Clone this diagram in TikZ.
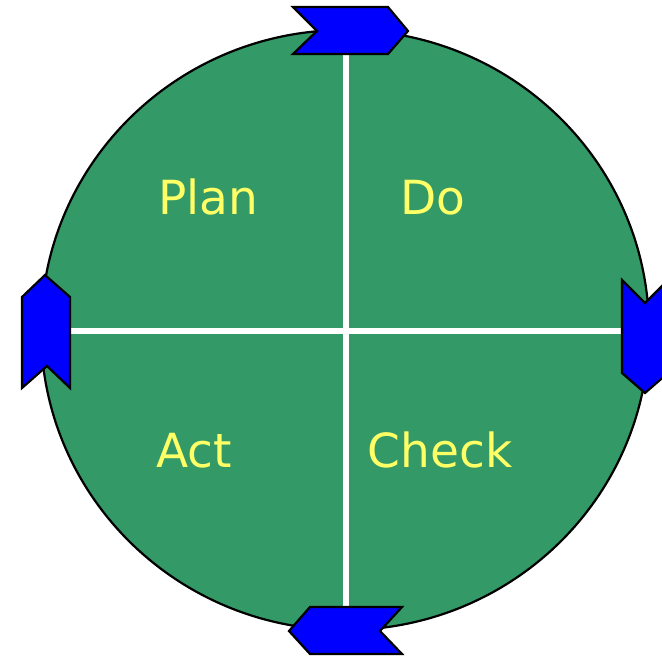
\documentclass[tikz,border=0pt]{standalone}
\usepackage{fontspec}
\setmainfont{DejaVu Sans}
\usepackage{tikz}

\definecolor{pdcagreen}{RGB}{51,153,102}
\definecolor{pdcayellow}{RGB}{255,255,102}

\tikzset{
	chevron/.style={fill=blue, draw=black, line width=2.2pt, line join=miter},
	quarter/.style={text=pdcayellow, anchor=base, inner sep=0pt, font=\fontsize{47}{50}\selectfont}
}

\begin{document}
\begin{tikzpicture}[x=1pt, y=-1pt]
		\useasboundingbox (0, 0) rectangle (662, 656);
		\clip (0, 0) rectangle (662, 656);

		% the wheel
		\filldraw[fill=pdcagreen, draw=black, line width=2.2pt] (345, 330) ellipse [x radius=304, y radius=300];
		\draw[white, line width=5.5pt] (346, 32) -- (346, 628);
		\draw[white, line width=5.5pt] (42, 331) -- (648, 331);

		% the four phases
		\node[quarter] (plan) at (208, 214) {Plan};
		\node[quarter] (do) at (433, 214) {Do};
		\node[quarter] (act) at (194, 467) {Act};
		\node[quarter] (check) at (440, 467) {Check};

		% arrows round the rim
		\filldraw[chevron] (293, 7) -- (388, 7) -- (408, 31) -- (388, 54) -- (293, 54) -- (317, 31) -- cycle;
		\filldraw[chevron] (622, 280) -- (645, 303) -- (668, 280) -- (668, 373) -- (645, 393) -- (622, 373) -- cycle;
		\filldraw[chevron] (310, 607) -- (402, 607) -- (380, 631) -- (402, 654) -- (310, 654) -- (289, 631) -- cycle;
		\filldraw[chevron] (45, 275) -- (70, 297) -- (70, 388) -- (47, 366) -- (22, 388) -- (22, 297) -- cycle;
	\end{tikzpicture}
\end{document}
